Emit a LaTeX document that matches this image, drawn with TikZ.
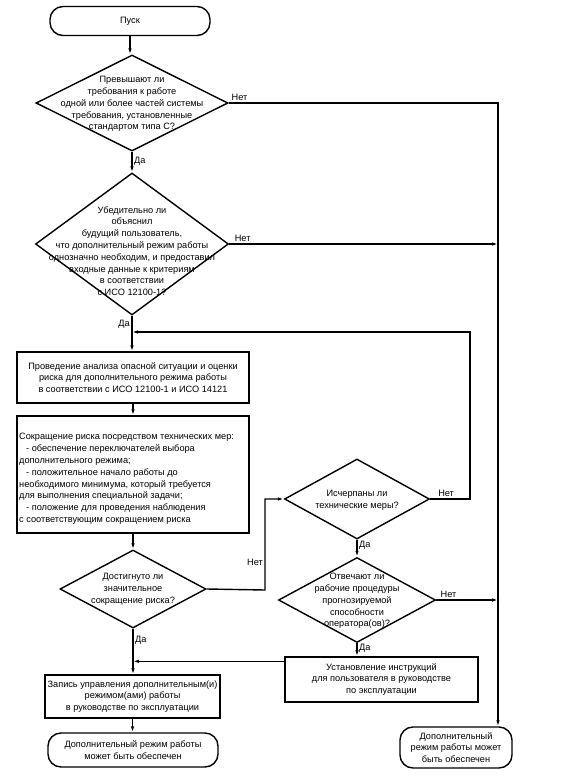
\documentclass[tikz,border=0pt]{standalone}
\usepackage{fontspec}
\setmainfont{Liberation Sans}
\usetikzlibrary{shapes.geometric,arrows.meta,calc}
\tikzset{
  ft/.style={font=\fontsize{9.2}{11.8}\selectfont},
  ln/.style={line width=1.4pt},
  arr/.style={ln,-{Latex[length=6pt,width=3.5pt]}},
  term/.style={draw,ln,rectangle,rounded corners=13pt,align=center,ft,inner sep=0pt},
  proc/.style={draw,ln,rectangle,align=center,ft,inner sep=0pt},
  dec/.style={draw,ln,diamond,inner sep=0pt},
  txt/.style={align=center,ft,inner sep=0pt},
  lab/.style={ft,inner sep=1.5pt}
}
\begin{document}
\begin{tikzpicture}[x=1pt,y=-1pt]
\useasboundingbox (0,0) rectangle (581,777);
% terminals, decisions and boxes
\node[term,minimum width=160pt,minimum height=29pt] (start) at (130,21) {Пуск};
\node[dec,minimum width=192pt,minimum height=96pt] (d1) at (132,103) {};
\node[txt] at (132,104) {Превышают ли\\требования к работе\\одной или более частей системы\\требования, установленные\\стандартом типа С?};
\node[dec,minimum width=193pt,minimum height=142pt] (d2) at (132,244) {};
\node[txt] at (132,251) {Убедительно ли\\объяснил\\будущий пользователь,\\что дополнительный режим работы\\однозначно необходим, и предоставил\\входные данные к критериям\\в соответствии\\с ИСО 12100-1?};
\node[proc,minimum width=232pt,minimum height=51pt] (b1) at (133,377.5) {Проведение анализа опасной ситуации и оценки\\риска для дополнительного режима работы\\в соответствии с ИСО 12100-1 и ИСО 14121};
\node[proc,minimum width=232pt,minimum height=117pt] (b2) at (133,474.5) {};
\node[txt,align=left,anchor=west] at (19,479) {Сокращение риска посредством технических мер:\\
\hspace*{7pt}- обеспечение переключателей выбора\\
дополнительного режима;\\
\hspace*{7pt}- положительное начало работы до\\
необходимого минимума, который требуется\\
для выполнения специальной задачи;\\
\hspace*{7pt}- положение для проведения наблюдения\\
с соответствующим сокращением риска};
\node[dec,minimum width=146pt,minimum height=78pt] (d3) at (133,589) {};
\node[txt] at (133,589) {Достигнуто ли\\значительное\\сокращение риска?};
\node[dec,minimum width=145pt,minimum height=80pt] (d4) at (357,499) {};
\node[txt] at (357,500) {Исчерпаны ли\\технические меры?};
\node[dec,minimum width=157pt,minimum height=85pt] (d5) at (357,600) {};
\node[txt] at (357,601) {Отвечают ли\\рабочие процедуры\\прогнозируемой\\способности\\оператора(ов)?};
\node[proc,minimum width=193pt,minimum height=45pt] (b4) at (381.5,679.5) {Установление инструкций\\для пользователя в руководстве\\по эксплуатации};
\node[proc,minimum width=175pt,minimum height=43pt] (b3) at (132.5,696.5) {Запись управления дополнительным(и)\\режимом(ами) работы\\в руководстве по эксплуатации};
\node[term,minimum width=170pt,minimum height=34pt] (t2) at (133,750) {Дополнительный режим работы\\может быть обеспечен};
\node[term,minimum width=112pt,minimum height=41pt] (t3) at (456,747.5) {Дополнительный\\режим работы может\\быть обеспечен};
% helper coordinates
\coordinate (rt) at (498,103);
\coordinate (lp) at (470,332);
\coordinate (jx) at (265,590);
\coordinate (b4a) at ($(b4.north west)+(0,5)$);
% connectors
\draw[arr] (start.south) -- (start.south |- d1.north);
\draw[arr] (d1.south) -- node[lab,right,pos=0.45]{Да} (d1.south |- d2.north);
\draw[arr] (d1.east) -- node[lab,above,pos=0.04]{Нет} (rt) -- (rt |- t3.north);
\draw[arr] (d2.east) -- node[lab,above,pos=0.05]{Нет} (rt |- d2.east);
\draw[arr] (d2.south) -- node[lab,left,pos=0.25]{Да} (d2.south |- b1.north);
\draw[arr] (d4.east) -- node[lab,above,pos=0.4]{Нет} (lp |- d4.east) -- (lp) -- (d2.south |- lp);
\draw[arr] (b1.south) -- (b1.south |- b2.north);
\draw[arr] (b2.south) -- (b2.south |- d3.north);
\draw[arr] (d3.east) -- (jx) -- node[lab,left,pos=0.3]{Нет} (jx |- d4.west) -- (d4.west);
\draw[arr] (d4.south) -- node[lab,right,pos=0.35]{Да} (d4.south |- d5.north);
\draw[arr] (d5.east) -- node[lab,above,pos=0.2]{Нет} (rt |- d5.east);
\draw[arr] (d5.south) -- node[lab,right,pos=0.4]{Да} (d5.south |- b4.north);
\draw[arr] (b4a) -- (d3.south |- b4a);
\draw[arr] (d3.south) -- node[lab,right,pos=0.25]{Да} (d3.south |- b3.north);
\draw[arr] (b3.south) -- (b3.south |- t2.north);
\end{tikzpicture}
\end{document}
